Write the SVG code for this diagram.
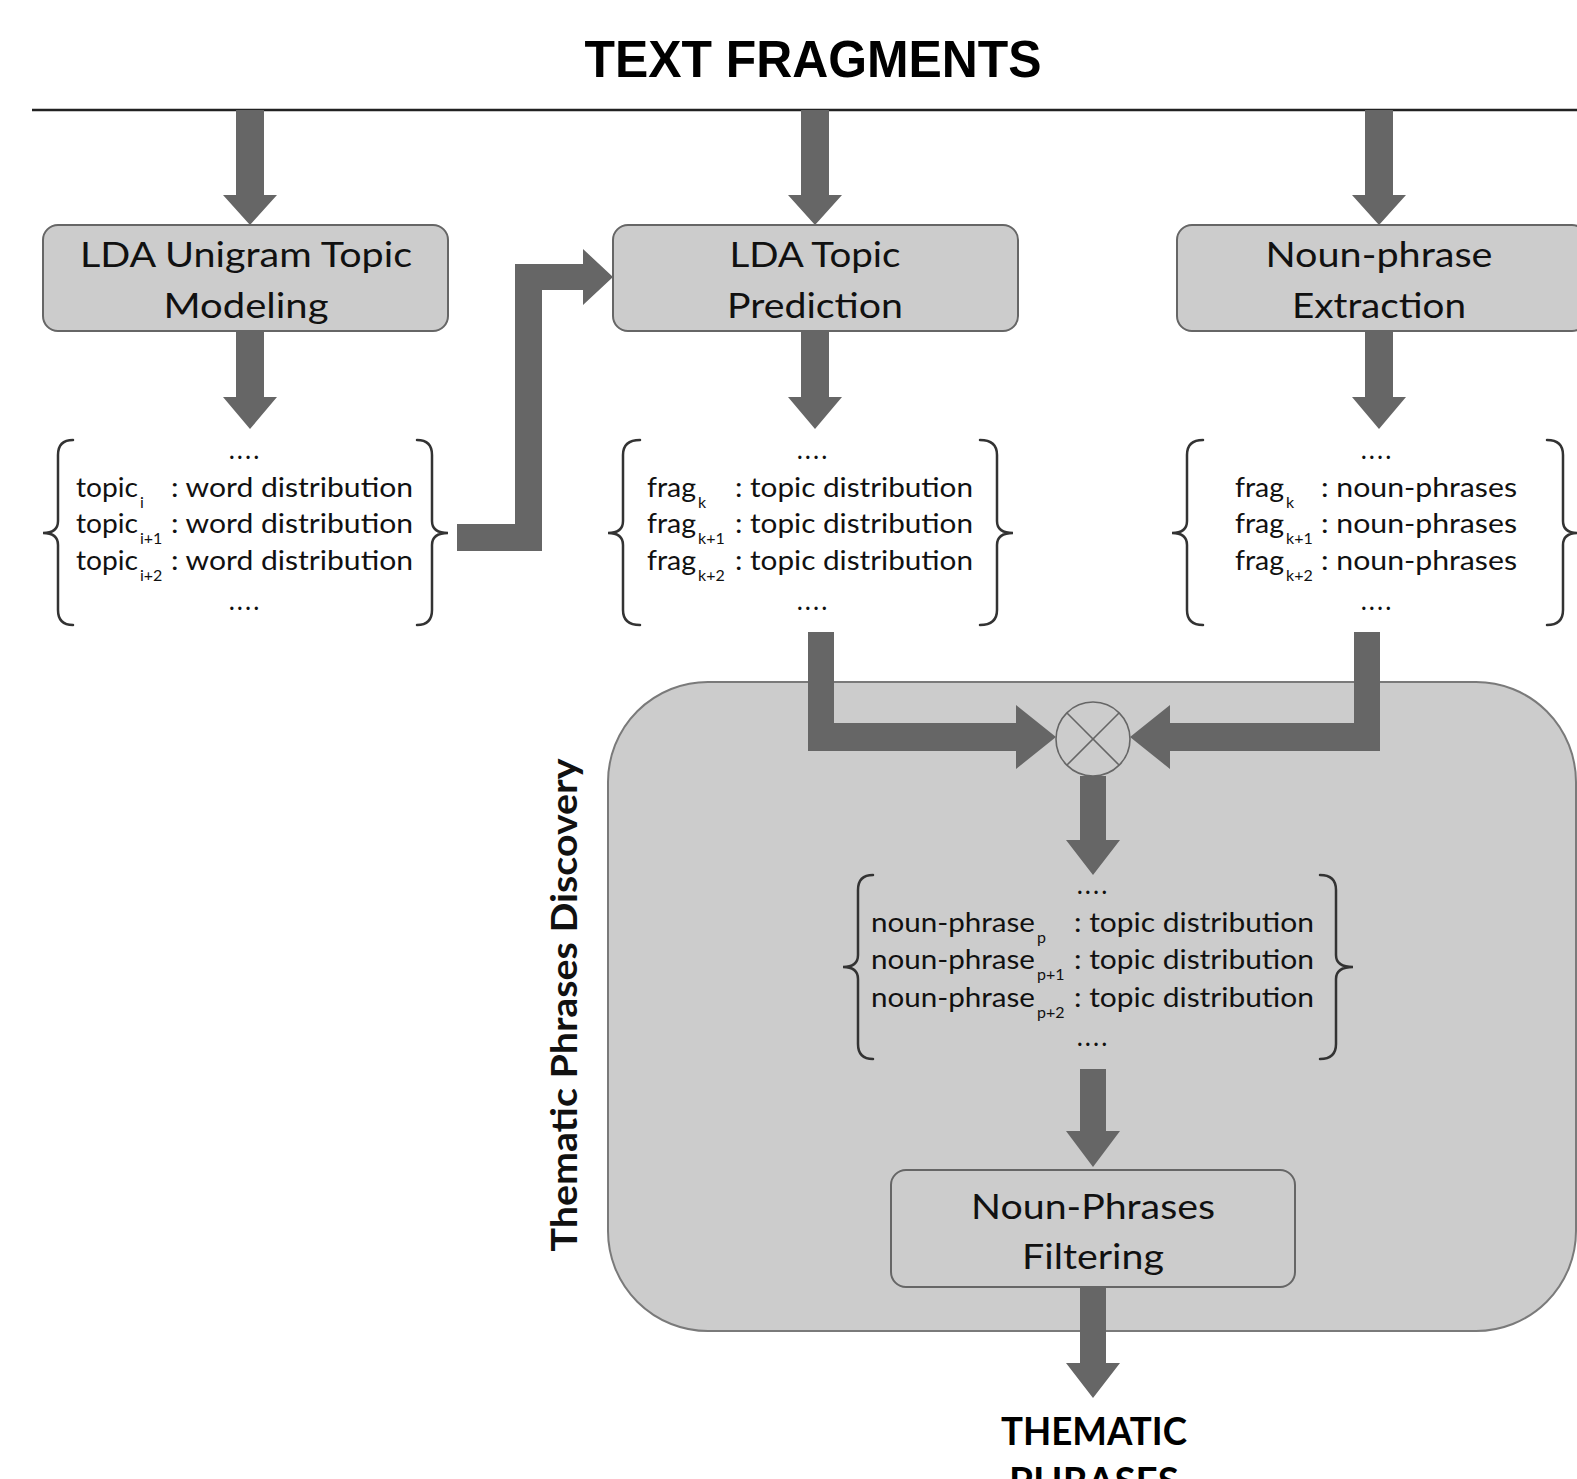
<svg xmlns="http://www.w3.org/2000/svg" width="1577" height="1479" viewBox="0 0 1577 1479">
<style>
.box{fill:#cccccc;stroke:#666666;stroke-width:2}
.arr{fill:#666666;stroke:none}
.brace{fill:none;stroke:#333333;stroke-width:2.5;stroke-linecap:round}
.lbl{font-family:Lato,"Open Sans",sans-serif;font-size:35px;fill:#111;text-anchor:middle}
.li{font-family:Lato,"Open Sans",sans-serif;font-size:26px;fill:#111}
.sub{font-family:Lato,"Open Sans",sans-serif;font-size:16px;fill:#111}
.dots{font-family:Lato,"Open Sans",sans-serif;font-size:26px;fill:#111;text-anchor:middle;letter-spacing:2px}
</style>
<rect width="1577" height="1479" fill="#ffffff"/>

<g id="title">
<text x="813" y="77" text-anchor="middle" font-family="Liberation Sans,Arial,sans-serif" font-weight="bold" font-size="52" textLength="457" lengthAdjust="spacingAndGlyphs" fill="#000">TEXT FRAGMENTS</text>
<line x1="32" y1="110" x2="1577" y2="110" stroke="#222" stroke-width="2.5"/>
</g>

<g id="container">
<rect x="608" y="682" width="968" height="649" rx="100" ry="100" fill="#cccccc" stroke="#7a7a7a" stroke-width="2"/>
<text transform="translate(577,1005) rotate(-90)" text-anchor="middle" font-family="Lato,'Open Sans',sans-serif" font-weight="bold" font-size="36" textLength="493" lengthAdjust="spacingAndGlyphs" fill="#111">Thematic Phrases Discovery</text>
</g>

<g id="connectors">
<polygon class="arr" points="236,110 264,110 264,195 277,195 250,225 223,195 236,195"/>
<polygon class="arr" points="801,110 829,110 829,195 842,195 815,225 788,195 801,195"/>
<polygon class="arr" points="1365,110 1393,110 1393,195 1406,195 1379,225 1352,195 1365,195"/>
<polygon class="arr" points="236,331 264,331 264,397 277,397 250,429 223,397 236,397"/>
<polygon class="arr" points="801,331 829,331 829,397 842,397 815,429 788,397 801,397"/>
<polygon class="arr" points="1365,331 1393,331 1393,397 1406,397 1379,429 1352,397 1365,397"/>
<polygon class="arr" points="457,524 515,524 515,264 583,264 583,249 613,277 583,305 583,290 542,290 542,551 457,551"/>
<polygon class="arr" points="808,632 834,632 834,723 1016,723 1016,705 1056,737 1016,769 1016,751 808,751"/>
<polygon class="arr" points="1380,632 1354,632 1354,723 1170,723 1170,705 1130,737 1170,769 1170,751 1380,751"/>
<polygon class="arr" points="1080,776 1106,776 1106,840 1120,840 1093,875 1066,840 1080,840"/>
<polygon class="arr" points="1080,1069 1106,1069 1106,1131 1120,1131 1093,1167 1066,1131 1080,1131"/>
<polygon class="arr" points="1080,1287 1106,1287 1106,1363 1120,1363 1093,1398 1066,1363 1080,1363"/>
</g>

<g id="merge">
<circle cx="1093" cy="739" r="37" fill="#cccccc" stroke="#666" stroke-width="1.6"/>
<line x1="1067" y1="713" x2="1119" y2="765" stroke="#666" stroke-width="1.6"/>
<line x1="1119" y1="713" x2="1067" y2="765" stroke="#666" stroke-width="1.6"/>
</g>

<g id="lda-unigram">
<rect class="box" x="43" y="225" width="405" height="106" rx="15"/>
<text class="lbl" x="246" y="267" textLength="332" lengthAdjust="spacingAndGlyphs">LDA Unigram Topic</text>
<text class="lbl" x="246" y="318" textLength="165" lengthAdjust="spacingAndGlyphs">Modeling</text>
</g>

<g id="lda-prediction">
<rect class="box" x="613" y="225" width="405" height="106" rx="15"/>
<text class="lbl" x="815" y="267" textLength="171" lengthAdjust="spacingAndGlyphs">LDA Topic</text>
<text class="lbl" x="815" y="318" textLength="176" lengthAdjust="spacingAndGlyphs">Prediction</text>
</g>

<g id="np-extraction">
<rect class="box" x="1177" y="225" width="410" height="106" rx="15"/>
<text class="lbl" x="1379" y="267" textLength="227" lengthAdjust="spacingAndGlyphs">Noun-phrase</text>
<text class="lbl" x="1379" y="318" textLength="174" lengthAdjust="spacingAndGlyphs">Extraction</text>
</g>

<g id="topic-words">
<path class="brace" d="M73,440 Q58,440 58,455 L58,521 Q58,533 43,533 Q58,533 58,545 L58,610 Q58,625 73,625"/>
<path class="brace" d="M417,440 Q432,440 432,455 L432,521 Q432,533 448,533 Q432,533 432,545 L432,610 Q432,625 417,625"/>
<text class="dots" x="245" y="459">....</text>
<text class="li" x="76" y="497" textLength="62" lengthAdjust="spacingAndGlyphs">topic</text><text class="sub" x="140" y="508">i</text><text class="li" x="171" y="497" textLength="242" lengthAdjust="spacingAndGlyphs">: word distribution</text>
<text class="li" x="76" y="533" textLength="62" lengthAdjust="spacingAndGlyphs">topic</text><text class="sub" x="140" y="544">i+1</text><text class="li" x="171" y="533" textLength="242" lengthAdjust="spacingAndGlyphs">: word distribution</text>
<text class="li" x="76" y="570" textLength="62" lengthAdjust="spacingAndGlyphs">topic</text><text class="sub" x="140" y="581">i+2</text><text class="li" x="171" y="570" textLength="242" lengthAdjust="spacingAndGlyphs">: word distribution</text>
<text class="dots" x="245" y="610">....</text>
</g>

<g id="frag-topics">
<path class="brace" d="M640,440 Q623,440 623,455 L623,521 Q623,533 608,533 Q623,533 623,545 L623,610 Q623,625 640,625"/>
<path class="brace" d="M980,440 Q997,440 997,455 L997,521 Q997,533 1013,533 Q997,533 997,545 L997,610 Q997,625 980,625"/>
<text class="dots" x="813" y="459">....</text>
<text class="li" x="647" y="497" textLength="49" lengthAdjust="spacingAndGlyphs">frag</text><text class="sub" x="698" y="508">k</text><text class="li" x="735" y="497" textLength="238" lengthAdjust="spacingAndGlyphs">: topic distribution</text>
<text class="li" x="647" y="533" textLength="49" lengthAdjust="spacingAndGlyphs">frag</text><text class="sub" x="698" y="544">k+1</text><text class="li" x="735" y="533" textLength="238" lengthAdjust="spacingAndGlyphs">: topic distribution</text>
<text class="li" x="647" y="570" textLength="49" lengthAdjust="spacingAndGlyphs">frag</text><text class="sub" x="698" y="581">k+2</text><text class="li" x="735" y="570" textLength="238" lengthAdjust="spacingAndGlyphs">: topic distribution</text>
<text class="dots" x="813" y="610">....</text>
</g>

<g id="frag-nps">
<path class="brace" d="M1203,440 Q1187,440 1187,455 L1187,521 Q1187,533 1172,533 Q1187,533 1187,545 L1187,610 Q1187,625 1203,625"/>
<path class="brace" d="M1547,440 Q1563,440 1563,455 L1563,521 Q1563,533 1578,533 Q1563,533 1563,545 L1563,610 Q1563,625 1547,625"/>
<text class="dots" x="1377" y="459">....</text>
<text class="li" x="1235" y="497" textLength="49" lengthAdjust="spacingAndGlyphs">frag</text><text class="sub" x="1286" y="508">k</text><text class="li" x="1321" y="497" textLength="196" lengthAdjust="spacingAndGlyphs">: noun-phrases</text>
<text class="li" x="1235" y="533" textLength="49" lengthAdjust="spacingAndGlyphs">frag</text><text class="sub" x="1286" y="544">k+1</text><text class="li" x="1321" y="533" textLength="196" lengthAdjust="spacingAndGlyphs">: noun-phrases</text>
<text class="li" x="1235" y="570" textLength="49" lengthAdjust="spacingAndGlyphs">frag</text><text class="sub" x="1286" y="581">k+2</text><text class="li" x="1321" y="570" textLength="196" lengthAdjust="spacingAndGlyphs">: noun-phrases</text>
<text class="dots" x="1377" y="610">....</text>
</g>

<g id="np-topics">
<path class="brace" d="M873,875 Q858,875 858,890 L858,955 Q858,967 843,967 Q858,967 858,979 L858,1044 Q858,1059 873,1059"/>
<path class="brace" d="M1320,875 Q1336,875 1336,890 L1336,955 Q1336,967 1353,967 Q1336,967 1336,979 L1336,1044 Q1336,1059 1320,1059"/>
<text class="dots" x="1093" y="894">....</text>
<text class="li" x="871" y="932" textLength="164" lengthAdjust="spacingAndGlyphs">noun-phrase</text><text class="sub" x="1037" y="943">p</text><text class="li" x="1074" y="932" textLength="240" lengthAdjust="spacingAndGlyphs">: topic distribution</text>
<text class="li" x="871" y="969" textLength="164" lengthAdjust="spacingAndGlyphs">noun-phrase</text><text class="sub" x="1037" y="980">p+1</text><text class="li" x="1074" y="969" textLength="240" lengthAdjust="spacingAndGlyphs">: topic distribution</text>
<text class="li" x="871" y="1007" textLength="164" lengthAdjust="spacingAndGlyphs">noun-phrase</text><text class="sub" x="1037" y="1018">p+2</text><text class="li" x="1074" y="1007" textLength="240" lengthAdjust="spacingAndGlyphs">: topic distribution</text>
<text class="dots" x="1093" y="1046">....</text>
</g>

<g id="np-filtering">
<rect class="box" x="891" y="1170" width="404" height="117" rx="15"/>
<text class="lbl" x="1093" y="1219" textLength="244" lengthAdjust="spacingAndGlyphs">Noun-Phrases</text>
<text class="lbl" x="1093" y="1269" textLength="142" lengthAdjust="spacingAndGlyphs">Filtering</text>
</g>

<g id="output">
<text x="1094" y="1445" text-anchor="middle" font-family="Lato,'Open Sans',sans-serif" font-weight="bold" font-size="38" textLength="186" lengthAdjust="spacingAndGlyphs" fill="#000">THEMATIC</text>
<text x="1094" y="1495" text-anchor="middle" font-family="Lato,'Open Sans',sans-serif" font-weight="bold" font-size="38" textLength="170" lengthAdjust="spacingAndGlyphs" fill="#000">PHRASES</text>
</g>
</svg>
